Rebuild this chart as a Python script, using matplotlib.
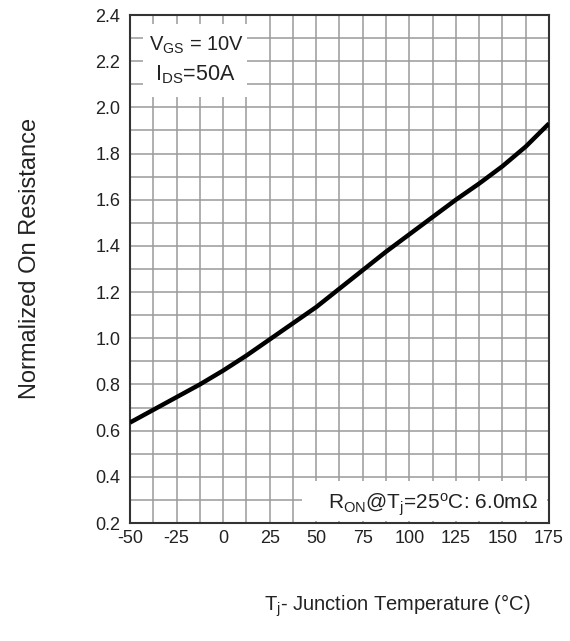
import matplotlib
matplotlib.use("Agg")
import matplotlib.pyplot as plt
from matplotlib.patches import Rectangle
from matplotlib.ticker import MultipleLocator

plt.rcParams['font.family'] = ['Liberation Sans', 'DejaVu Sans']
plt.rcParams['mathtext.fontset'] = 'custom'
plt.rcParams['mathtext.rm'] = 'Liberation Sans'
plt.rcParams['mathtext.it'] = 'Liberation Sans'

# Data
temperature = [-50, -37.5, -25, -12.5, 0, 12.5, 25, 37.5, 50, 62.5, 75, 87.5,
               100, 112.5, 125, 137.5, 150, 162.5, 175]
norm_rdson = [0.635, 0.69, 0.745, 0.80, 0.86, 0.925, 0.995, 1.065, 1.135, 1.215,
              1.295, 1.375, 1.45, 1.525, 1.60, 1.67, 1.745, 1.83, 1.93]
x_ticks = [-50, -25, 0, 25, 50, 75, 100, 125, 150, 175]
y_ticks = [0.2, 0.4, 0.6, 0.8, 1.0, 1.2, 1.4, 1.6, 1.8, 2.0, 2.2, 2.4]

fig = plt.figure(figsize=(5.7, 6.41), dpi=100)
ax = fig.add_axes([130/570, 118/641, 419/570, 508/641])

ax.plot(temperature, norm_rdson, color='black', lw=3.2, zorder=3,
        solid_capstyle='butt')

ax.set_xlim(-50, 175)
ax.set_ylim(0.2, 2.4)
ax.set_xticks(x_ticks)
ax.set_xticklabels([str(t) for t in x_ticks])
ax.set_yticks(y_ticks)
ax.set_yticklabels([f"{v:.1f}" for v in y_ticks])
ax.xaxis.set_minor_locator(MultipleLocator(12.5))
ax.yaxis.set_minor_locator(MultipleLocator(0.1))
ax.set_axisbelow(True)
ax.grid(True, which='both', color='#9a9a9a', lw=1.1)
ax.tick_params(which='both', length=0)
ax.tick_params(axis='x', labelsize=13, pad=5, colors='#222222')
ax.tick_params(axis='y', labelsize=13, pad=7, colors='#222222')
for s in ax.spines.values():
    s.set_color('#333333')
    s.set_linewidth(1.5)

# white backgrounds for annotations
ax.add_patch(Rectangle((0.031, 0.839), 0.248, 0.143, transform=ax.transAxes,
                       facecolor='white', edgecolor='none', zorder=1))
ax.add_patch(Rectangle((0.41, 0.004), 0.585, 0.079, transform=ax.transAxes,
                       facecolor='white', edgecolor='none', zorder=1))

ax.text(0.158, 0.941, r"V$_{\mathregular{GS}}$ = 10V", transform=ax.transAxes,
        ha='center', va='center', fontsize=14.5, color='#222222', zorder=4)
ax.text(0.155, 0.882, r"I$_{\mathregular{DS}}$=50A", transform=ax.transAxes,
        ha='center', va='center', fontsize=15.5, color='#222222', zorder=4)
ax.text(0.723, 0.035,
        r"R$_{\mathregular{ON}}$@T$_{\mathregular{j}}$=25$^{\mathregular{o}}$C: 6.0m$\Omega$",
        transform=ax.transAxes, ha='center', va='center', fontsize=15,
        color='#222222', zorder=4)

fig.text(30/570, 1 - 258/641, "Normalized On Resistance", rotation=90,
         ha='center', va='center', fontsize=17, color='#222222')
fig.text(397/570, 1 - 606/641, r"T$_{\mathregular{j}}$- Junction Temperature (°C)",
         ha='center', va='center', fontsize=14.5, color='#222222')

fig.savefig("out.png", dpi=100, facecolor='white')
